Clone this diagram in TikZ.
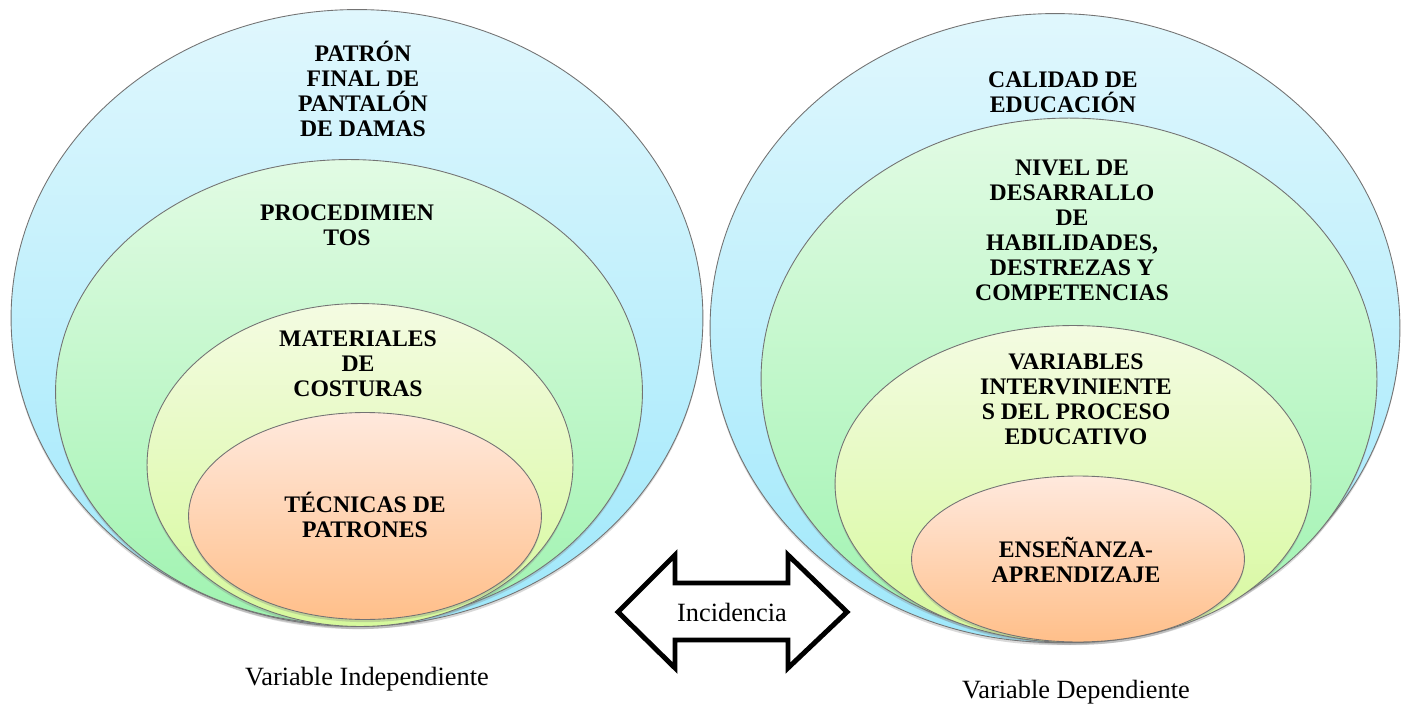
\documentclass[tikz,border=0pt]{standalone}
\usepackage{fontspec}
\setmainfont{Liberation Serif}
\usetikzlibrary{shapes.geometric}
\usetikzlibrary{shadows}
\definecolor{bluetop}{HTML}{E0F7FD}
\definecolor{bluebot}{HTML}{9FE8FB}
\definecolor{greentop}{HTML}{E2FBE4}
\definecolor{greenbot}{HTML}{9FF3B0}
\definecolor{yellowtop}{HTML}{F4FBE2}
\definecolor{yellowbot}{HTML}{D6F99C}
\definecolor{orangetop}{HTML}{FFE9DD}
\definecolor{orangebot}{HTML}{FFBF8A}
\begin{document}
\begin{tikzpicture}[x=0.02cm,y=-0.02cm,
    bubble/.style={ellipse, draw=black!55, line width=0.5pt, inner sep=0pt, outer sep=0pt,
      drop shadow={shadow xshift=0pt, shadow yshift=-1.5pt, opacity=0.3}},
    lbl/.style={align=center, font=\fontsize{13.5}{14.2}\selectfont\bfseries},
    varcap/.style={font=\fontsize{15}{18}\selectfont}]
  \useasboundingbox (0,0) rectangle (1401,707);

  % independent variable
  \node[bubble, top color=bluetop, bottom color=bluebot, minimum width=13.84cm, minimum height=12.34cm] (indouter) at (357,318) {};
  \node[bubble, top color=greentop, bottom color=greenbot, minimum width=11.74cm, minimum height=9.3cm] (indproc) at (349,392) {};
  \node[bubble, top color=yellowtop, bottom color=yellowbot, minimum width=8.52cm, minimum height=6.46cm] (indmat) at (360,465) {};
  \node[bubble, top color=orangetop, bottom color=orangebot, minimum width=7.06cm, minimum height=4.14cm] (indtec) at (365,516) {};

  \node[lbl] (patron) at (363,89) {PATRÓN\\FINAL DE\\PANTALÓN\\DE DAMAS};
  \node[lbl] (proced) at (347,225) {PROCEDIMIEN\\TOS};
  \node[lbl] (mater) at (358,364) {MATERIALES\\DE\\COSTURAS};
  \node[lbl] (tecnic) at (365,515) {TÉCNICAS DE\\PATRONES};
  \node[varcap] (indcap) at (367,679) {Variable Independiente};

  % dependent variable
  \node[bubble, top color=bluetop, bottom color=bluebot, minimum width=13.8cm, minimum height=12.58cm] (depouter) at (1055,328) {};
  \node[bubble, top color=greentop, bottom color=greenbot, minimum width=12.32cm, minimum height=10.44cm] (depnivel) at (1069,379) {};
  \node[bubble, top color=yellowtop, bottom color=yellowbot, minimum width=9.52cm, minimum height=6.34cm] (depvar) at (1073,484) {};
  \node[bubble, top color=orangetop, bottom color=orangebot, minimum width=6.66cm, minimum height=3.32cm] (depens) at (1078,559) {};

  \node[lbl] (calidad) at (1063,92) {CALIDAD DE\\EDUCACIÓN};
  \node[lbl] (nivel) at (1072,230) {NIVEL DE\\DESARRALLO\\DE\\HABILIDADES,\\DESTREZAS Y\\COMPETENCIAS};
  \node[lbl] (variab) at (1076,399) {VARIABLES\\INTERVINIENTE\\S DEL PROCESO\\EDUCATIVO};
  \node[lbl] (ensen) at (1076,560) {ENSEÑANZA-\\APRENDIZAJE};
  \node[varcap] (depcap) at (1076,692) {Variable Dependiente};

  % incidence arrow
  \draw[line width=2.8pt, line join=miter, fill=white]
    (618,612) -- (675,555) -- (675,583) -- (788,583) -- (788,555) -- (847,612)
    -- (788,668) -- (788,640) -- (675,640) -- (675,668) -- cycle;
  \node[varcap] (incid) at (732,612) {Incidencia};
\end{tikzpicture}
\end{document}
